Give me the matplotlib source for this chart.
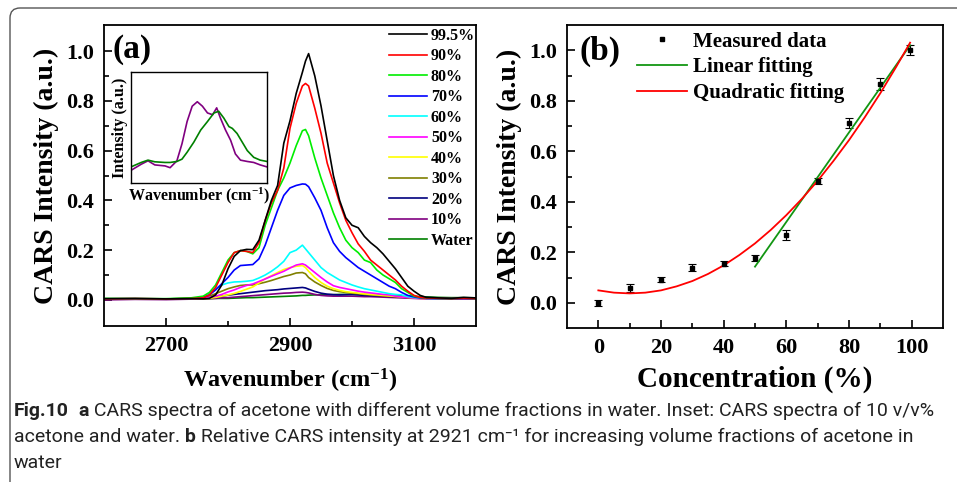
import matplotlib
matplotlib.use("Agg")
import matplotlib.pyplot as plt
from matplotlib.patches import FancyBboxPatch
from matplotlib.transforms import IdentityTransform
from matplotlib.lines import Line2D
import numpy as np

plt.rcParams['font.family'] = ['Liberation Serif', 'DejaVu Serif']
plt.rcParams['font.weight'] = 'bold'
plt.rcParams['axes.labelweight'] = 'bold'
plt.rcParams['mathtext.fontset'] = 'custom'
plt.rcParams['mathtext.rm'] = 'Liberation Serif:bold'
plt.rcParams['mathtext.bf'] = 'Liberation Serif:bold'
plt.rcParams['mathtext.it'] = 'Liberation Serif:bold'

# ---- panel (a): CARS spectra ----
wn = [2600, 2650, 2700, 2740, 2760, 2770, 2780, 2790, 2800, 2810, 2820, 2830,
      2840, 2850, 2860, 2870, 2880, 2890, 2900, 2910, 2920, 2925, 2930, 2940,
      2950, 2960, 2970, 2980, 2990, 3000, 3010, 3020, 3030, 3040, 3050, 3060,
      3070, 3080, 3090, 3100, 3110, 3120, 3140, 3160, 3180, 3200]

s995 = [0.005, 0.006, 0.004, 0.005, 0.004, 0.006, 0.02, 0.06, 0.125, 0.175, 0.198, 0.203,
        0.202, 0.24, 0.32, 0.40, 0.46, 0.63, 0.72, 0.83, 0.915, 0.96, 0.99, 0.90,
        0.78, 0.64, 0.50, 0.40, 0.33, 0.30, 0.29, 0.255, 0.23, 0.21, 0.185, 0.155,
        0.125, 0.09, 0.055, 0.035, 0.018, 0.01, 0.008, 0.006, 0.01, 0.008]
s90 = [0.004, 0.005, 0.004, 0.005, 0.008, 0.02, 0.05, 0.10, 0.15, 0.19, 0.198, 0.195,
       0.19, 0.23, 0.32, 0.39, 0.44, 0.53, 0.69, 0.79, 0.86, 0.87, 0.86, 0.77,
       0.67, 0.55, 0.47, 0.39, 0.32, 0.27, 0.225, 0.195, 0.16, 0.14, 0.12, 0.10,
       0.08, 0.055, 0.035, 0.018, 0.01, 0.008, 0.006, 0.005, 0.006, 0.005]
s80 = [0.006, 0.005, 0.005, 0.008, 0.015, 0.03, 0.06, 0.11, 0.16, 0.19, 0.198, 0.195,
       0.185, 0.21, 0.30, 0.37, 0.44, 0.49, 0.55, 0.62, 0.68, 0.685, 0.66, 0.57,
       0.49, 0.42, 0.35, 0.29, 0.24, 0.21, 0.19, 0.16, 0.15, 0.12, 0.10, 0.085,
       0.07, 0.045, 0.03, 0.015, 0.01, 0.008, 0.006, 0.005, 0.007, 0.005]
s70 = [0.004, 0.004, 0.003, 0.005, 0.01, 0.02, 0.04, 0.065, 0.09, 0.12, 0.138, 0.14,
       0.142, 0.165, 0.22, 0.29, 0.36, 0.42, 0.45, 0.46, 0.466, 0.465, 0.455, 0.41,
       0.36, 0.29, 0.23, 0.195, 0.17, 0.15, 0.13, 0.115, 0.10, 0.085, 0.07, 0.055,
       0.045, 0.03, 0.018, 0.012, 0.008, 0.006, 0.005, 0.004, 0.005, 0.004]
s60 = [0.004, 0.004, 0.004, 0.005, 0.01, 0.025, 0.045, 0.06, 0.068, 0.072, 0.073, 0.075,
       0.078, 0.088, 0.10, 0.115, 0.133, 0.155, 0.19, 0.20, 0.22, 0.205, 0.19, 0.16,
       0.13, 0.11, 0.095, 0.08, 0.07, 0.06, 0.052, 0.045, 0.04, 0.035, 0.03, 0.025,
       0.022, 0.02, 0.013, 0.01, 0.008, 0.006, 0.005, 0.005, 0.006, 0.005]
s50 = [0.003, 0.004, 0.004, 0.005, 0.006, 0.01, 0.015, 0.022, 0.032, 0.04, 0.05, 0.058,
       0.064, 0.074, 0.084, 0.095, 0.105, 0.115, 0.128, 0.14, 0.145, 0.14, 0.13, 0.11,
       0.09, 0.072, 0.057, 0.05, 0.045, 0.04, 0.035, 0.031, 0.028, 0.025, 0.022, 0.02,
       0.015, 0.012, 0.01, 0.008, 0.006, 0.005, 0.005, 0.004, 0.005, 0.004]
s40 = [0.003, 0.003, 0.004, 0.004, 0.005, 0.006, 0.01, 0.015, 0.02, 0.026, 0.034, 0.043,
       0.052, 0.068, 0.085, 0.097, 0.11, 0.122, 0.13, 0.135, 0.138, 0.13, 0.115, 0.09,
       0.07, 0.055, 0.045, 0.038, 0.033, 0.03, 0.027, 0.024, 0.022, 0.02, 0.018, 0.016,
       0.014, 0.012, 0.01, 0.008, 0.006, 0.005, 0.004, 0.004, 0.005, 0.004]
s30 = [0.004, 0.004, 0.003, 0.006, 0.01, 0.015, 0.025, 0.035, 0.045, 0.052, 0.058, 0.06,
       0.06, 0.065, 0.071, 0.078, 0.086, 0.094, 0.10, 0.108, 0.11, 0.105, 0.09, 0.072,
       0.058, 0.046, 0.038, 0.033, 0.03, 0.027, 0.025, 0.022, 0.02, 0.018, 0.016, 0.015,
       0.013, 0.012, 0.01, 0.009, 0.007, 0.006, 0.005, 0.005, 0.006, 0.005]
s20 = [0.003, 0.004, 0.004, 0.005, 0.006, 0.008, 0.011, 0.015, 0.019, 0.022, 0.025, 0.028,
       0.031, 0.034, 0.037, 0.039, 0.041, 0.044, 0.046, 0.048, 0.05, 0.048, 0.043, 0.034,
       0.027, 0.023, 0.021, 0.02, 0.021, 0.022, 0.02, 0.018, 0.017, 0.016, 0.015, 0.014,
       0.014, 0.013, 0.012, 0.012, 0.01, 0.009, 0.008, 0.007, 0.008, 0.007]
s10 = [0.0, 0.002, 0.001, 0.003, 0.004, 0.005, 0.006, 0.008, 0.009, 0.011, 0.013, 0.015,
       0.017, 0.019, 0.021, 0.023, 0.025, 0.027, 0.028, 0.03, 0.031, 0.03, 0.028, 0.022,
       0.018, 0.016, 0.015, 0.015, 0.015, 0.015, 0.014, 0.013, 0.013, 0.012, 0.011, 0.01,
       0.009, 0.008, 0.007, 0.006, 0.005, 0.004, 0.004, 0.003, 0.004, 0.003]
water = [0.004, 0.004, 0.004, 0.005, 0.005, 0.005, 0.006, 0.006, 0.006, 0.007, 0.008, 0.009,
         0.009, 0.01, 0.011, 0.012, 0.013, 0.014, 0.015, 0.016, 0.018, 0.018, 0.019, 0.02,
         0.02, 0.021, 0.021, 0.022, 0.022, 0.022, 0.022, 0.021, 0.021, 0.02, 0.019, 0.018,
         0.017, 0.016, 0.015, 0.014, 0.013, 0.012, 0.01, 0.009, 0.009, 0.008]

spectra = [s995, s90, s80, s70, s60, s50, s40, s30, s20, s10, water]
labels_a = ['99.5%', '90%', '80%', '70%', '60%', '50%', '40%', '30%', '20%', '10%', 'Water']
colors_a = ['#000000', '#ff0000', '#00ee00', '#0000ff', '#00ffff', '#ff00ff',
            '#ffff00', '#808000', '#000080', '#800080', '#008000']

# inset: 10% acetone vs water (arbitrary units)
in_wn_10 = [2700, 2730, 2750, 2770, 2800, 2815, 2835, 2850, 2865, 2880, 2895, 2910,
            2925, 2940, 2952, 2963, 2978, 2993, 3007, 3022, 3042, 3061, 3080, 3100]
in_10 = [0.114, 0.169, 0.20, 0.163, 0.154, 0.138, 0.20, 0.354, 0.554, 0.692, 0.732, 0.692,
         0.631, 0.615, 0.677, 0.585, 0.477, 0.385, 0.262, 0.206, 0.194, 0.185, 0.163, 0.145]
in_wn_w = [2700, 2730, 2750, 2770, 2800, 2815, 2835, 2850, 2865, 2885, 2905, 2925,
           2944, 2958, 2973, 2988, 2998, 3012, 3027, 3042, 3061, 3080, 3100]
in_w = [0.145, 0.185, 0.206, 0.191, 0.185, 0.185, 0.194, 0.215, 0.277, 0.369, 0.477, 0.554,
        0.631, 0.646, 0.585, 0.508, 0.492, 0.446, 0.369, 0.292, 0.231, 0.206, 0.194]

# ---- panel (b): intensity vs concentration ----
conc = [0, 10, 20, 30, 40, 50, 60, 70, 80, 90, 99.5]
inten = [0.0, 0.059, 0.092, 0.139, 0.155, 0.176, 0.268, 0.482, 0.712, 0.865, 1.0]
inten_err = [0.012, 0.016, 0.011, 0.014, 0.011, 0.012, 0.02, 0.013, 0.02, 0.024, 0.02]
lin_x = [50, 99.5]
lin_y = [0.143, 1.02]
quad_x = [0, 5, 10, 15, 20, 25, 30, 35, 40, 45, 50, 55, 60, 65, 70, 75, 80, 85, 90, 95, 99.5]
quad_y = [0.049, 0.040, 0.037, 0.040, 0.049, 0.065, 0.086, 0.114, 0.148, 0.189, 0.235,
          0.288, 0.347, 0.412, 0.483, 0.561, 0.644, 0.734, 0.830, 0.933, 1.030]

W, H = 957, 482
fig = plt.figure(figsize=(W / 100, H / 100), dpi=100)


def px_axes(l, t, r, b):
    return fig.add_axes([l / W, 1 - b / H, (r - l) / W, (b - t) / H])


def style_axes(ax):
    for sp in ax.spines.values():
        sp.set_linewidth(1.3)
    ax.tick_params(which='both', direction='in', top=False, right=False,
                   labelsize=16, width=1.2, pad=7)
    ax.tick_params(which='major', length=6)
    ax.tick_params(which='minor', length=3.5)


ax = px_axes(104, 25, 476, 326)
for y, c, lab in zip(spectra[::-1], colors_a[::-1], labels_a[::-1]):
    ax.plot(wn, y, color=c, lw=1.2, label=lab)
ax.set_xlim(2600, 3200)
ax.set_ylim(-0.105, 1.105)
ax.set_xticks([2700, 2900, 3100])
ax.set_xticks([2800, 3000], minor=True)
ax.set_yticks(np.arange(0, 1.01, 0.2))
ax.set_yticks(np.arange(0.1, 1.0, 0.2), minor=True)
ax.yaxis.set_major_formatter(matplotlib.ticker.FormatStrFormatter('%.1f'))
style_axes(ax)
ax.set_xlabel(r'Wavenumber (cm$^{-1}$)', fontsize=17.5, fontweight='bold', labelpad=8)
ax.set_ylabel('CARS Intensity (a.u.)', fontsize=20, fontweight='bold', labelpad=5)
ax.text(0.024, 0.917, '(a)', transform=ax.transAxes, fontsize=24, fontweight='bold',
        va='center', ha='left')
h, l = ax.get_legend_handles_labels()
ax.legend(h[::-1], l[::-1], loc='upper left', bbox_to_anchor=(0.765, 0.99), frameon=False,
          fontsize=11.5, handlelength=2.4, handletextpad=0.25, labelspacing=0.28,
          borderpad=0, borderaxespad=0)

ins = px_axes(131, 72, 267, 183)
ins.plot(in_wn_10, in_10, color='#800080', lw=1.2)
ins.plot(in_wn_w, in_w, color='#008000', lw=1.2)
ins.set_xlim(2700, 3100)
ins.set_ylim(0, 1)
ins.set_xticks([])
ins.set_yticks([])
for sp in ins.spines.values():
    sp.set_linewidth(1.0)
ins.set_xlabel(r'Wavenumber (cm$^{-1}$)', fontsize=11.5, fontweight='bold', labelpad=2)
ins.set_ylabel('Intensity (a.u.)', fontsize=11.5, fontweight='bold', labelpad=2)

bx = px_axes(567, 25, 943, 328)
bx.errorbar(conc, inten, yerr=inten_err, fmt='s', ms=3.5, color='black', ecolor='black',
            elinewidth=0.8, capsize=3, capthick=0.8)
lin_line, = bx.plot(lin_x, lin_y, color='#129612', lw=1.3)
quad_line, = bx.plot(quad_x, quad_y, color='#ff0000', lw=1.3)
bx.set_xlim(-10, 110)
bx.set_ylim(-0.1, 1.1)
bx.set_xticks(np.arange(0, 101, 20))
bx.set_xticks(np.arange(10, 100, 20), minor=True)
bx.set_yticks(np.arange(0, 1.01, 0.2))
bx.set_yticks(np.arange(0.1, 1.0, 0.2), minor=True)
bx.yaxis.set_major_formatter(matplotlib.ticker.FormatStrFormatter('%.1f'))
style_axes(bx)
bx.set_xlabel('Concentration (%)', fontsize=21, fontweight='bold', labelpad=6)
bx.set_ylabel('CARS Intensity (a.u.)', fontsize=20, fontweight='bold', labelpad=5)
bx.text(0.034, 0.912, '(b)', transform=bx.transAxes, fontsize=24, fontweight='bold',
        va='center', ha='left')
meas_handle = Line2D([], [], ls='none', marker='s', ms=3.5, color='black')
bx.legend([meas_handle, lin_line, quad_line],
          ['Measured data', 'Linear fitting', 'Quadratic fitting'],
          loc='upper left', bbox_to_anchor=(0.186, 0.978), frameon=False, fontsize=15,
          handlelength=2.4, handletextpad=0.3, labelspacing=0.28, borderpad=0,
          borderaxespad=0)

# frame around figure + caption
fig.add_artist(FancyBboxPatch((10, -30), 1000, H - 8 + 30,
                              boxstyle='round,pad=0,rounding_size=10',
                              transform=IdentityTransform(), fill=False,
                              ec='#555555', lw=1.0))

cap_family = ['Roboto', 'DejaVu Sans']
cap_lines = [
    [('Fig.10', 'bold'), ('  ', 'normal'), ('a', 'bold'),
     (' CARS spectra of acetone with different volume fractions in water. Inset: CARS spectra of 10 v/v%', 'normal')],
    [('acetone and water. ', 'normal'), ('b', 'bold'),
     (' Relative CARS intensity at 2921 cm\u207b\u00b9 for increasing volume fractions of acetone in', 'normal')],
    [('water', 'normal')],
]
cap_y = [411, 437, 463]
renderer = fig.canvas.get_renderer()

# fit the caption size so the first line spans the same width as the original
probe = 12.0
tot = 0
for s, wt in cap_lines[0]:
    t = fig.text(0, 0, s, fontsize=probe, fontweight=wt, family=cap_family)
    tot += t.get_window_extent(renderer).width
    t.remove()
cap_size = probe * 914 / tot

for pieces, yy in zip(cap_lines, cap_y):
    x = 14
    for s, wt in pieces:
        t = fig.text(x / W, 1 - yy / H, s, fontsize=cap_size, fontweight=wt,
                     family=cap_family, va='center', ha='left', color='#222222')
        x += t.get_window_extent(renderer).width

fig.savefig('out.png', dpi=100)
